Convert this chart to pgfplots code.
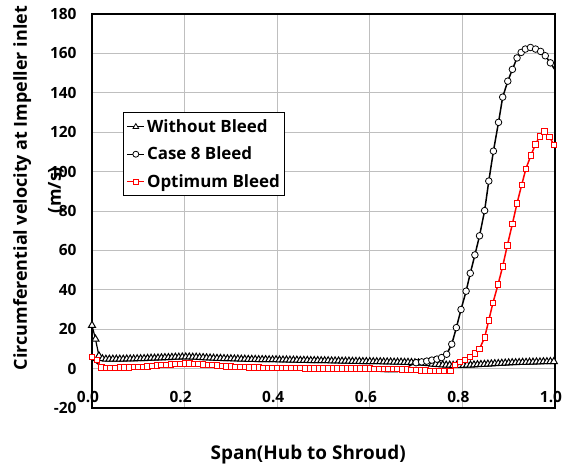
\documentclass[border=0pt]{standalone}
\usepackage{fontspec}
\setmainfont{Open Sans}
\usepackage{pgfplots}
\pgfplotsset{compat=1.18}

\begin{document}
\begin{tikzpicture}
\begin{axis}[
  name=ax,
  scale only axis,
  width=463bp, height=394bp,
  xmin=0, xmax=1, ymin=-20, ymax=180,
  xtick={0,0.2,0.4,0.6,0.8,1.0},
  xticklabels={0.0,0.2,0.4,0.6,0.8,1.0},
  ytick={-20,0,20,40,60,80,100,120,140,160,180},
  grid=major,
  major grid style={color=black!25, line width=0.9bp},
  major tick length=0pt,
  axis line style={line width=1.8bp},
  tick label style={font=\fontsize{15.5}{17}\selectfont\bfseries},
  /pgf/number format/assume math mode=true,
  yticklabel style={xshift=-12bp},
  xticklabel style={anchor=base, yshift=6bp, xshift=-4bp},
  xlabel={Span(Hub to Shroud)},
  xlabel style={at={(axis description cs:0.467,-0.119)}, anchor=center, font=\fontsize{19}{22}\selectfont\bfseries},
  ylabel={Circumferential velocity at Impeller inlet},
  ylabel style={at={(axis description cs:-0.151,0.558)}, anchor=center, rotate=0, font=\fontsize{18}{21}\selectfont\bfseries},
  legend style={at={(axis description cs:0.067,0.751)}, anchor=north west, draw=black, line width=1.2bp,
    font=\fontsize{17}{20}\selectfont\bfseries, row sep=9bp, inner xsep=3bp, inner ysep=5bp},
  legend cell align=left,
]
\addlegendimage{black, line width=1bp, mark=triangle*, mark options={fill=white, draw=black, line width=0.8bp}, mark size=3.3bp}
\addlegendentry{Without Bleed}
\addlegendimage{black, line width=1bp, mark=*, mark options={fill=white, draw=black, line width=0.8bp}, mark size=3bp}
\addlegendentry{Case 8 Bleed}
\addlegendimage{red, line width=1.4bp, mark=square*, mark options={fill=white, draw=red, line width=0.8bp}, mark size=2.6bp}
\addlegendentry{Optimum Bleed}

% Without Bleed
\addplot[forget plot, black, line width=1.2bp, mark=triangle*, mark size=4bp,
  mark options={fill=white, draw=black, line width=1bp}] coordinates {
(0,22) (0.0075,15) (0.015,6.5) (0.0225,5.0) (0.03,4.8) (0.0375,4.8) (0.045,4.8) (0.0525,4.8)
(0.06,4.8) (0.0675,4.8) (0.075,4.9) (0.0825,4.9) (0.09,4.9) (0.0975,5.0) (0.105,5.0) (0.1125,5.1)
(0.12,5.2) (0.1275,5.3) (0.135,5.3) (0.1425,5.4) (0.15,5.5) (0.1575,5.6) (0.165,5.6) (0.1725,5.7)
(0.18,5.8) (0.1875,5.8) (0.195,5.9) (0.2025,5.9) (0.21,5.9) (0.2175,5.8) (0.225,5.8) (0.2325,5.7)
(0.24,5.6) (0.2475,5.5) (0.255,5.4) (0.2625,5.3) (0.27,5.2) (0.2775,5.2) (0.285,5.1) (0.2925,5.0)
(0.3,5.0) (0.3075,4.9) (0.315,4.9) (0.3225,4.8) (0.33,4.8) (0.3375,4.7) (0.345,4.7) (0.3525,4.7)
(0.36,4.6) (0.3675,4.6) (0.375,4.6) (0.3825,4.5) (0.39,4.5) (0.3975,4.5) (0.405,4.4) (0.4125,4.4)
(0.42,4.4) (0.4275,4.3) (0.435,4.3) (0.4425,4.3) (0.45,4.2) (0.4575,4.2) (0.465,4.2) (0.4725,4.1)
(0.48,4.1) (0.4875,4.1) (0.495,4.0) (0.5025,4.0) (0.51,4.0) (0.5175,3.9) (0.525,3.9) (0.5325,3.9)
(0.54,3.8) (0.5475,3.8) (0.555,3.8) (0.5625,3.7) (0.57,3.7) (0.5775,3.7) (0.585,3.6) (0.5925,3.6)
(0.6,3.6) (0.6075,3.5) (0.615,3.5) (0.6225,3.5) (0.63,3.4) (0.6375,3.4) (0.645,3.4) (0.6525,3.3)
(0.66,3.3) (0.6675,3.3) (0.675,3.2) (0.6825,3.2) (0.69,3.1) (0.6975,3.0) (0.705,2.9) (0.7125,2.8)
(0.72,2.6) (0.7275,2.5) (0.735,2.3) (0.7425,2.2) (0.75,2.0) (0.7575,1.9) (0.765,1.8) (0.7725,1.8)
(0.78,1.7) (0.7875,1.7) (0.795,1.7) (0.8025,1.7) (0.81,1.8) (0.8175,1.8) (0.825,1.9) (0.8325,2.0)
(0.84,2.1) (0.8475,2.2) (0.855,2.3) (0.8625,2.4) (0.87,2.5) (0.8775,2.6) (0.885,2.7) (0.8925,2.8)
(0.9,2.9) (0.9075,3.0) (0.915,3.0) (0.9225,3.1) (0.93,3.2) (0.9375,3.2) (0.945,3.3) (0.9525,3.3)
(0.96,3.4) (0.9675,3.4) (0.975,3.5) (0.9825,3.5) (0.99,3.6) (0.9975,3.6)
};

% Case 8 Bleed - full line
\addplot[forget plot, black, line width=1.5bp, mark=none] coordinates {
(0,5) (0.01,3) (0.02,1.0) (0.04,0.8) (0.06,0.8) (0.08,0.9) (0.10,1.0) (0.12,1.3) (0.14,1.6)
(0.16,1.9) (0.18,2.1) (0.20,2.3) (0.22,2.2) (0.24,2.0) (0.26,1.7) (0.28,1.4) (0.30,1.1)
(0.32,0.9) (0.34,0.7) (0.36,0.5) (0.38,0.4) (0.40,0.3) (0.42,0.2) (0.44,0.1) (0.46,0.0)
(0.48,-0.1) (0.50,-0.2) (0.52,-0.3) (0.54,-0.4) (0.56,-0.6) (0.58,-0.8) (0.60,-1.0)
(0.62,-1.3) (0.64,-1.6) (0.66,-1.5) (0.68,0.5) (0.69,2.0)
(0.700,3.0) (0.712,3.4) (0.723,3.8) (0.734,4.3) (0.745,4.8) (0.755,5.6) (0.766,7.3)
(0.777,12.4) (0.787,20.8) (0.797,30.0) (0.808,39.3) (0.817,48.4) (0.827,57.7) (0.837,67.4)
(0.848,80.2) (0.857,95.2) (0.867,110.4) (0.878,125.0) (0.887,137.8) (0.898,145.9) (0.908,151.9)
(0.918,157.7) (0.927,160.5) (0.936,162.2) (0.947,163.0) (0.958,162.2) (0.969,161.0) (0.979,158.8)
(0.990,155.2) (0.999,152.0)
};
% Case 8 Bleed - markers
\addplot[forget plot, only marks, mark=*, mark size=3.3bp,
  mark options={fill=white, draw=black, line width=0.8bp}] coordinates {
(0.700,3.0) (0.712,3.4) (0.723,3.8) (0.734,4.3) (0.745,4.8) (0.755,5.6) (0.766,7.3)
(0.777,12.4) (0.787,20.8) (0.797,30.0) (0.808,39.3) (0.817,48.4) (0.827,57.7) (0.837,67.4)
(0.848,80.2) (0.857,95.2) (0.867,110.4) (0.878,125.0) (0.887,137.8) (0.898,145.9) (0.908,151.9)
(0.918,157.7) (0.927,160.5) (0.936,162.2) (0.947,163.0) (0.958,162.2) (0.969,161.0) (0.979,158.8)
(0.990,155.2)
};

% Optimum Bleed
\addplot[forget plot, red, line width=1.5bp, mark=square*, mark size=2.7bp,
  mark options={fill=white, draw=red, line width=0.8bp}] coordinates {
(0.000,6.0) (0.010,4.3) (0.020,0.6) (0.030,0.5) (0.040,0.5) (0.050,0.5) (0.060,0.6) (0.070,0.6)
(0.080,0.7) (0.090,0.8) (0.100,0.9) (0.110,1.0) (0.120,1.2) (0.130,1.4) (0.140,1.6) (0.150,1.8)
(0.160,2.0) (0.170,2.2) (0.180,2.4) (0.190,2.5) (0.200,2.6) (0.210,2.6) (0.220,2.5) (0.230,2.4)
(0.240,2.2) (0.250,2.0) (0.260,1.8) (0.270,1.6) (0.280,1.4) (0.290,1.2) (0.300,1.1) (0.310,1.0)
(0.320,0.9) (0.330,0.8) (0.340,0.7) (0.350,0.6) (0.360,0.6) (0.370,0.5) (0.380,0.5) (0.390,0.4)
(0.400,0.4) (0.410,0.4) (0.420,0.3) (0.430,0.3) (0.440,0.3) (0.450,0.3) (0.460,0.2) (0.470,0.2)
(0.480,0.2) (0.490,0.2) (0.500,0.2) (0.510,0.1) (0.520,0.1) (0.530,0.1) (0.540,0.1) (0.550,0.0)
(0.560,0.0) (0.570,0.0) (0.580,0.0) (0.590,0.0) (0.600,0.0) (0.610,-0.1) (0.620,-0.1) (0.630,-0.2)
(0.640,-0.2) (0.650,-0.3) (0.660,-0.3) (0.670,-0.4) (0.680,-0.5) (0.690,-0.6) (0.700,-0.7) (0.710,-0.9)
(0.720,-1.0) (0.730,-1.1) (0.740,-1.2) (0.750,-1.2) (0.760,-1.3) (0.774,-1.2) (0.784,1.8) (0.795,3.4)
(0.806,4.4) (0.816,5.8) (0.827,7.8) (0.837,10.0) (0.848,15.8) (0.857,24.5) (0.866,33.4) (0.877,42.7)
(0.887,51.9) (0.897,62.5) (0.908,73.5) (0.918,83.9) (0.928,93.2) (0.937,101.3) (0.948,108.3) (0.958,113.9)
(0.967,117.9) (0.977,120.5) (0.988,117.6) (0.998,113.5)
};
\end{axis}
\node[rotate=90, font=\fontsize{18}{21}\selectfont\bfseries] at ([shift={(-36bp,218bp)}]ax.south west) {(m/s)};
\pgfresetboundingbox
\path ([shift={(-92bp,-58bp)}]ax.south west) rectangle ([shift={(16bp,14bp)}]ax.north east);
\end{tikzpicture}
\end{document}
